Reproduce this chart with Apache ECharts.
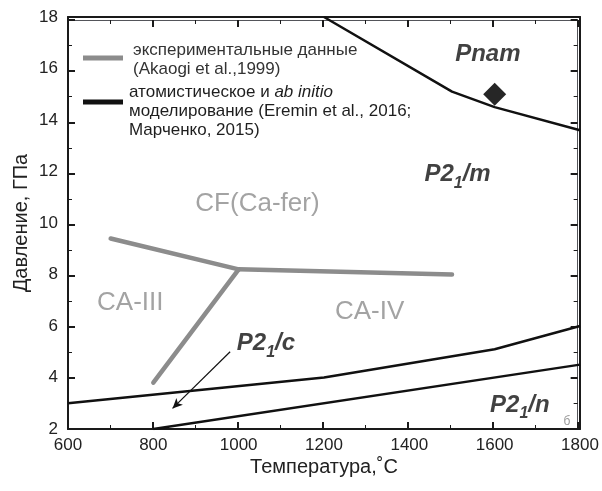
<!DOCTYPE html>
<html>
<head>
<meta charset="utf-8">
<script src="https://cdn.jsdelivr.net/npm/echarts@6/dist/echarts.min.js"></script>
<style>
html,body{margin:0;padding:0;background:#ffffff;}
#wrap{position:relative;width:602px;height:491px;}
.layer{position:absolute;left:0;top:0;width:602px;height:491px;}
</style>
</head>
<body>
<div id="wrap">
  <div class="layer" id="ticks"></div>
  <div class="layer" id="frame"></div>
  <div class="layer" id="chart"></div>
</div>
<script>
// ---------- axis ticks ----------
const xTickLabels = [600, 800, 1000, 1200, 1400, 1600, 1800];
const yTickLabels = [2, 4, 6, 8, 10, 12, 14, 16, 18];
const xAxisTitle = 'Температура,˚C';
const yAxisTitle = 'Давление, ГПа';

// ---------- simulated (black) phase boundaries ----------
const pnamBoundaryT = [1200, 1500, 1600, 1800];
const pnamBoundaryP = [18.0, 15.1, 14.5, 13.6];
const p21cUpperT = [600, 1200, 1600, 1800];
const p21cUpperP = [3.0, 4.0, 5.1, 6.0];
const p21nBoundaryT = [800, 1800];
const p21nBoundaryP = [2.0, 4.5];

// ---------- experimental (gray) boundaries, Akaogi et al. 1999 ----------
const expCfCa3T = [700, 1000];
const expCfCa3P = [9.4, 8.2];
const expCfCa4T = [1000, 1500];
const expCfCa4P = [8.2, 8.0];
const expCa3Ca4T = [1000, 800];
const expCa3Ca4P = [8.2, 3.8];

// ---------- diamond point ----------
const diamondT = [1600];
const diamondP = [15.0];

// ---------- phase labels (black, bold italic) ----------
const phaseMain = ['Pnam', 'P2', 'P2', 'P2'];
const phaseSub  = ['', '1', '1', '1'];
const phaseTail = ['', '/m', '/c', '/n'];
const phaseT = [1584, 1513, 1064, 1659];
const phaseP = [16.53, 11.87, 5.33, 2.93];

// ---------- experimental phase labels (gray) ----------
const expNames = ['CF(Ca-fer)', 'CA-III', 'CA-IV'];
const expT = [1044, 746, 1307];
const expP = [10.75, 6.90, 6.56];

// ---------- arrow pointing to P2_1/c field ----------
const arrowFrom = [980, 5.0];
const arrowTo = [845, 2.8];

const FONT = '"Liberation Sans", Arial, sans-serif';
const BLACK = '#111111';
const GRAY = '#8c8c8c';
const AXIS = '#1a1a1a';

const zip = (a, b) => a.map((v, i) => [v, b[i]]);

const xMin = xTickLabels[0], xMax = xTickLabels[xTickLabels.length - 1];
const xInt = xTickLabels[1] - xTickLabels[0];
const yMin = yTickLabels[0], yMax = yTickLabels[yTickLabels.length - 1];
const yInt = yTickLabels[1] - yTickLabels[0];
const GRID = { left: 68, right: 22, top: 17, bottom: 62 };

// ===== layer 1: tick marks (major + minor, pointing inward on all four sides) =====
function tickAxis(pos, min, max, interval) {
  return {
    type: 'value', position: pos, min: min, max: max, interval: interval,
    axisLine: { show: true, onZero: false },
    axisTick: { show: true, inside: true, length: 7, lineStyle: { color: AXIS, width: 2 } },
    minorTick: { show: true, splitNumber: 2, length: 4, lineStyle: { color: AXIS } },
    axisLabel: { color: 'rgba(0,0,0,0)' },
    splitLine: { show: false }
  };
}
echarts.init(document.getElementById('ticks')).setOption({
  animation: false,
  grid: GRID,
  xAxis: [tickAxis('bottom', xMin, xMax, xInt), tickAxis('top', xMin, xMax, xInt)],
  yAxis: [tickAxis('left', yMin, yMax, yInt), tickAxis('right', yMin, yMax, yInt)],
  series: [{ type: 'line', data: zip(p21nBoundaryT, p21nBoundaryP), showSymbol: false, symbol: 'none',
    lineStyle: { opacity: 0 } }]
});

// ===== layer 2: frame lines and tick labels =====
function frameAxis(pos, min, max, interval, labels, margin) {
  return {
    type: 'value', position: pos, min: min, max: max, interval: interval,
    axisLine: { show: true, onZero: false, lineStyle: { color: AXIS, width: 2 } },
    axisTick: { show: false },
    splitLine: { show: false },
    axisLabel: labels
      ? { show: true, fontSize: 17, color: '#222', fontFamily: FONT, margin: margin, formatter: v => String(v) }
      : { show: false }
  };
}
echarts.init(document.getElementById('frame')).setOption({
  animation: false,
  grid: GRID,
  xAxis: [frameAxis('bottom', xMin, xMax, xInt, true, 8), frameAxis('top', xMin, xMax, xInt, false, 8)],
  yAxis: [frameAxis('left', yMin, yMax, yInt, true, 10), frameAxis('right', yMin, yMax, yInt, false, 10)],
  series: []
});

// ===== layer 3: data, annotations, legend =====
const phaseData = phaseMain.map((m, i) => ({
  value: [phaseT[i], phaseP[i]],
  fmt: phaseSub[i] ? '{b|' + m + '}{s|' + phaseSub[i] + '}{b|' + phaseTail[i] + '}' : '{b|' + m + '}'
}));
function hiddenAxis(min, max, interval) {
  return { type: 'value', min: min, max: max, interval: interval,
    axisLine: { show: false }, axisTick: { show: false }, axisLabel: { show: false }, splitLine: { show: false } };
}

echarts.init(document.getElementById('chart')).setOption({
  animation: false,
  grid: GRID,
  xAxis: hiddenAxis(xMin, xMax, xInt),
  yAxis: hiddenAxis(yMin, yMax, yInt),
  series: [
    { type: 'line', name: 'exp1', data: zip(expCfCa3T, expCfCa3P), showSymbol: false, symbol: 'none',
      lineStyle: { color: GRAY, width: 4.5, cap: 'round' } },
    { type: 'line', name: 'exp2', data: zip(expCfCa4T, expCfCa4P), showSymbol: false, symbol: 'none',
      lineStyle: { color: GRAY, width: 4.5, cap: 'round' } },
    { type: 'line', name: 'exp3', data: zip(expCa3Ca4T, expCa3Ca4P), showSymbol: false, symbol: 'none',
      lineStyle: { color: GRAY, width: 4.5, cap: 'round' } },
    { type: 'line', name: 'sim1', data: zip(pnamBoundaryT, pnamBoundaryP), showSymbol: false, symbol: 'none',
      lineStyle: { color: BLACK, width: 2.5 } },
    { type: 'line', name: 'sim2', data: zip(p21cUpperT, p21cUpperP), showSymbol: false, symbol: 'none',
      lineStyle: { color: BLACK, width: 2.5 } },
    { type: 'line', name: 'sim3', data: zip(p21nBoundaryT, p21nBoundaryP), showSymbol: false, symbol: 'none',
      lineStyle: { color: BLACK, width: 2.5 },
      markLine: {
        silent: true, symbol: ['none', 'arrow'], symbolSize: [7, 10],
        label: { show: false },
        lineStyle: { color: BLACK, width: 1.2, type: 'solid' },
        data: [[{ coord: arrowFrom }, { coord: arrowTo }]]
      }
    },
    { type: 'scatter', name: 'diamond', data: zip(diamondT, diamondP), symbol: 'diamond', symbolSize: 23,
      itemStyle: { color: '#262626', opacity: 1 } },
    { type: 'scatter', name: 'expLabels', silent: true,
      data: expNames.map((n, i) => ({ value: [expT[i], expP[i]], name: n })),
      symbolSize: 1, itemStyle: { color: 'rgba(0,0,0,0)' },
      label: { show: true, position: 'inside', formatter: p => p.name,
        fontSize: 26, color: GRAY, fontFamily: FONT } },
    { type: 'scatter', name: 'phaseLabels', silent: true,
      data: phaseData,
      symbolSize: 1, itemStyle: { color: 'rgba(0,0,0,0)' },
      label: { show: true, position: 'inside',
        formatter: p => p.data.fmt,
        rich: {
          b: { fontSize: 24, fontWeight: 'bold', fontStyle: 'italic', color: BLACK, fontFamily: FONT },
          s: { fontSize: 16, fontWeight: 'bold', fontStyle: 'italic', color: BLACK, fontFamily: FONT, padding: [18, 0, 0, 0] }
        } } }
  ],
  graphic: [
    { type: 'text', x: 324, y: 467, style: { text: xAxisTitle, font: '20px ' + FONT, fill: '#222', align: 'center', verticalAlign: 'middle' } },
    { type: 'text', x: 21, y: 223, rotation: Math.PI / 2, style: { text: yAxisTitle, font: '20px ' + FONT, fill: '#222', align: 'center', verticalAlign: 'middle' } },
    { type: 'line', shape: { x1: 83, y1: 58, x2: 123, y2: 58 }, style: { stroke: GRAY, lineWidth: 5 } },
    { type: 'text', x: 133, y: 50, style: { text: 'экспериментальные данные', font: '17px ' + FONT, fill: '#333', verticalAlign: 'middle' } },
    { type: 'text', x: 133, y: 69, style: { text: '(Akaogi et al.,1999)', font: '17px ' + FONT, fill: '#333', verticalAlign: 'middle' } },
    { type: 'line', shape: { x1: 83, y1: 102, x2: 123, y2: 102 }, style: { stroke: BLACK, lineWidth: 5 } },
    { type: 'text', x: 129, y: 92, style: { text: '{n|атомистическое и }{i|ab initio}', verticalAlign: 'middle',
        rich: { n: { font: '17px ' + FONT, fill: '#1e1e1e' }, i: { font: 'italic 17px ' + FONT, fill: '#1e1e1e' } } } },
    { type: 'text', x: 129, y: 111, style: { text: 'моделирование (Eremin et al., 2016;', font: '17px ' + FONT, fill: '#1e1e1e', verticalAlign: 'middle' } },
    { type: 'text', x: 129, y: 130, style: { text: 'Марченко, 2015)', font: '17px ' + FONT, fill: '#1e1e1e', verticalAlign: 'middle' } },
    { type: 'text', x: 567, y: 422, style: { text: 'б', font: '12px ' + FONT, fill: '#999', align: 'center', verticalAlign: 'middle' } }
  ]
});
</script>
</body>
</html>
